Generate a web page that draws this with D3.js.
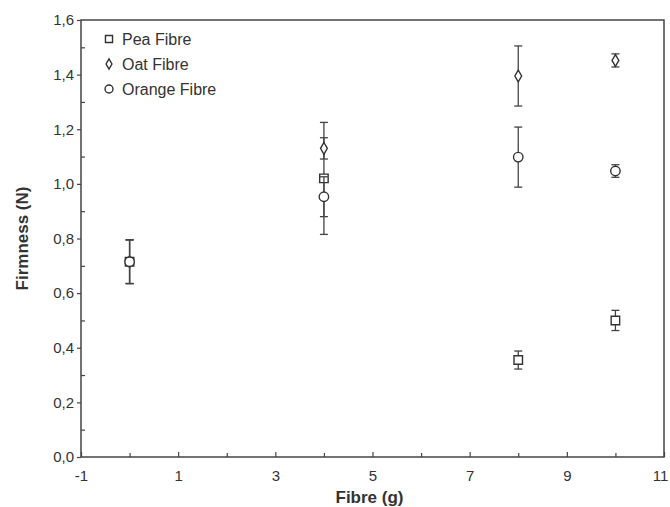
<!DOCTYPE html>
<meta charset="utf-8">
<style>
body { margin: 0; background: #fff; }
text { font-family: "Liberation Sans", Arial, sans-serif; fill: #333; }
.frame { fill: none; stroke: #444; stroke-width: 1.5; }
.tick line { stroke: #444; stroke-width: 1.2; }
.bar { stroke: #444; stroke-width: 1.3; }
.mark { fill: none; stroke: #333; stroke-width: 1.4; }
</style>
<svg width="670" height="507"></svg>
<script src="https://cdn.jsdelivr.net/npm/d3@7"></script>
<script>

// fibre added (g)
var fibre = [0, 4, 8, 10];

// firmness (N) and its error per series
var peaFirm = [0.715, 1.02, 0.355, 0.50],
    peaErr = [0.08, 0.205, 0.033, 0.037];
var oatFirm = [0.715, 1.13, 1.395, 1.452],
    oatErr = [0.08, 0.039, 0.11, 0.024];
var orangeFirm = [0.715, 0.953, 1.098, 1.047],
    orangeErr = [0.08, 0.073, 0.11, 0.023];

var seriesNames = ["Pea Fibre", "Oat Fibre", "Orange Fibre"];
var xTicks = [-1, 1, 3, 5, 7, 9, 11];
var yTicks = [0, 0.2, 0.4, 0.6, 0.8, 1.0, 1.2, 1.4, 1.6];

var svg = d3.select("svg"),
    margin = {top: 20, right: 6, bottom: 50, left: 81},
    width = +svg.attr("width") - margin.left - margin.right,
    height = +svg.attr("height") - margin.top - margin.bottom;

var x = d3.scaleLinear().domain([-1, 11]).range([0, width]);
var y = d3.scaleLinear().domain([0, 1.6]).range([height, 0]);

var g = svg.append("g").attr("transform", "translate(" + margin.left + "," + margin.top + ")");

var comma = function(d) { return d3.format(".1f")(d).replace(".", ","); };

// minor ticks
g.append("g")
    .attr("transform", "translate(0," + height + ")")
    .call(d3.axisBottom(x).tickValues([0, 2, 4, 6, 8, 10]).tickSize(-4).tickFormat(""))
    .call(function(s) { s.select(".domain").remove(); });
g.append("g")
    .call(d3.axisLeft(y).tickValues([0.1, 0.3, 0.5, 0.7, 0.9, 1.1, 1.3, 1.5]).tickSize(-4).tickFormat(""))
    .call(function(s) { s.select(".domain").remove(); });

// major ticks
var xAxis = g.append("g")
    .attr("transform", "translate(0," + height + ")")
    .call(d3.axisBottom(x).tickValues(xTicks).tickSize(-5).tickPadding(13).tickFormat(function(d) { return String(d); }));
xAxis.select(".domain").remove();
xAxis.selectAll("text").attr("font-size", 15).attr("fill", "#333")
    .filter(function(d) { return d === 11; }).attr("dx", -4);

var yAxis = g.append("g")
    .call(d3.axisLeft(y).tickValues(yTicks).tickSize(4).tickPadding(3).tickFormat(comma));
yAxis.select(".domain").remove();
yAxis.selectAll("text").attr("font-size", 15).attr("fill", "#333");

g.append("rect").attr("class", "frame")
    .attr("width", width).attr("height", height);

// axis titles
svg.append("text")
    .attr("x", margin.left + width / 2 - 3)
    .attr("y", 503)
    .attr("text-anchor", "middle")
    .attr("font-size", 17).attr("font-weight", "bold")
    .text("Fibre (g)");
svg.append("text")
    .attr("transform", "translate(28," + (margin.top + height / 2) + ") rotate(-90)")
    .attr("text-anchor", "middle")
    .attr("font-size", 17).attr("font-weight", "bold")
    .text("Firmness (N)");

var shapes = [d3.symbolSquare, d3.symbolDiamond, d3.symbolCircle];
var sizes = [72, 40, 70];

var series = [
  {firm: peaFirm, err: peaErr},
  {firm: oatFirm, err: oatErr},
  {firm: orangeFirm, err: orangeErr}
];

series.forEach(function(s, i) {
  var pts = fibre.map(function(f, j) { return {x: f, y: s.firm[j], e: s.err[j]}; });
  var sg = g.append("g");
  var bars = sg.selectAll(".eb").data(pts).enter().append("g").attr("class", "eb");
  bars.append("line").attr("class", "bar")
      .attr("x1", function(d) { return x(d.x); }).attr("x2", function(d) { return x(d.x); })
      .attr("y1", function(d) { return y(d.y + d.e); }).attr("y2", function(d) { return y(d.y - d.e); });
  [1, -1].forEach(function(sign) {
    bars.append("line").attr("class", "bar")
        .attr("x1", function(d) { return x(d.x) - 4; }).attr("x2", function(d) { return x(d.x) + 4; })
        .attr("y1", function(d) { return y(d.y + sign * d.e); }).attr("y2", function(d) { return y(d.y + sign * d.e); });
  });
  sg.selectAll(".mark").data(pts).enter().append("path")
      .attr("class", "mark")
      .attr("transform", function(d) { return "translate(" + x(d.x) + "," + y(d.y) + ")"; })
      .attr("d", d3.symbol().type(shapes[i]).size(sizes[i]))
      .style("fill", "#fff");
});

// legend
var legend = g.selectAll(".legend").data(seriesNames).enter().append("g")
    .attr("transform", function(d, i) { return "translate(28," + (19 + i * 25) + ")"; });
legend.append("path").attr("class", "mark")
    .attr("d", function(d, i) { return d3.symbol().type(shapes[i]).size(i === 1 ? 30 : 50)(); });
legend.append("text").attr("x", 13).attr("dy", "0.36em")
    .attr("font-size", 16).text(function(d) { return d; });

</script>
